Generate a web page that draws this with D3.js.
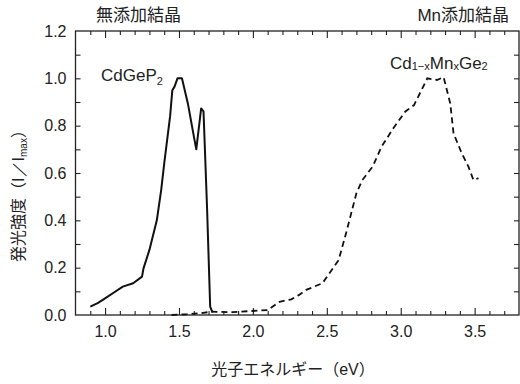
<!DOCTYPE html>
<html>
<head>
<meta charset="utf-8">
<script src="https://cdn.jsdelivr.net/npm/d3@7.9.0/dist/d3.min.js"></script>
<style>
  body { margin: 0; background: #fff; }
  svg { display: block; }
  .tick text { font-family: "Liberation Sans", Arial, sans-serif; font-size: 16px; fill: #222; }
  .tick line { stroke: #222; stroke-width: 1.1; }
  .jp { font-family: "Noto Sans CJK JP", sans-serif; fill: #222; }
  .lat { font-family: "Liberation Sans", Arial, sans-serif; fill: #222; }
</style>
</head>
<body>
<div id="chart"></div>
<script>
// undoped CdGeP2 emission (solid)
const undopedE = [0.90, 0.95, 1.00, 1.06, 1.12, 1.19, 1.25, 1.26, 1.30, 1.35, 1.38, 1.40, 1.44, 1.455, 1.47, 1.49, 1.52, 1.56, 1.605, 1.617, 1.65, 1.666, 1.69, 1.711, 1.727];
const undopedI = [0.035, 0.05, 0.07, 0.095, 0.12, 0.134, 0.162, 0.197, 0.275, 0.40, 0.53, 0.64, 0.84, 0.95, 0.965, 1.0, 1.0, 0.894, 0.74, 0.70, 0.873, 0.86, 0.45, 0.035, 0.01];

// Mn-doped Cd1-xMnxGe2 emission (dashed)
const dopedE = [1.45, 1.55, 1.65, 1.72, 1.86, 2.10, 2.18, 2.26, 2.31, 2.36, 2.47, 2.58, 2.63, 2.70, 2.74, 2.81, 2.87, 2.95, 3.03, 3.09, 3.18, 3.245, 3.29, 3.335, 3.357, 3.413, 3.458, 3.492, 3.526];
const dopedI = [0.0, 0.003, 0.008, 0.014, 0.012, 0.021, 0.056, 0.066, 0.084, 0.106, 0.134, 0.232, 0.345, 0.514, 0.570, 0.627, 0.711, 0.789, 0.859, 0.887, 1.0, 0.993, 1.005, 0.894, 0.768, 0.683, 0.627, 0.570, 0.578];

const xMajor = [1.0, 1.5, 2.0, 2.5, 3.0, 3.5];
const yLabels = [0.0, 0.2, 0.4, 0.6, 0.8, 1.0, 1.2];

const width = 520, height = 384;
const plot = { left: 75.5, right: 519, top: 31, bottom: 315 };

const svg = d3.select('#chart').append('svg')
  .attr('width', width).attr('height', height);

const x = d3.scaleLinear().domain([0.8, 3.8]).range([plot.left, plot.right]);
const y = d3.scaleLinear().domain([0, 1.2]).range([plot.bottom, plot.top]);

const xMinor = d3.range(9, 38).map(d => d / 10).filter(v => !xMajor.some(m => Math.abs(m - v) < 1e-6));
const yMinor = d3.range(1, 12).map(d => d / 10);

// bottom axis
svg.append('g').attr('transform', `translate(0,${plot.bottom})`)
  .call(d3.axisBottom(x).tickValues(xMinor).tickSize(-4).tickFormat(''))
  .call(g => g.select('.domain').remove());
svg.append('g').attr('transform', `translate(0,${plot.bottom})`)
  .call(d3.axisBottom(x).tickValues(xMajor).tickSize(-7).tickPadding(11).tickFormat(d3.format('.1f')))
  .call(g => g.select('.domain').remove());

// top axis
svg.append('g').attr('transform', `translate(0,${plot.top})`)
  .call(d3.axisTop(x).tickValues(xMinor).tickSize(-4).tickFormat(''))
  .call(g => g.select('.domain').remove());
svg.append('g').attr('transform', `translate(0,${plot.top})`)
  .call(d3.axisTop(x).tickValues(xMajor).tickSize(-7).tickFormat(''))
  .call(g => g.select('.domain').remove());

// left axis
svg.append('g').attr('transform', `translate(${plot.left},0)`)
  .call(d3.axisLeft(y).tickValues(yMinor).tickSize(-5).tickFormat(''))
  .call(g => g.select('.domain').remove());
svg.append('g').attr('transform', `translate(${plot.left},0)`)
  .call(d3.axisLeft(y).tickValues(yLabels).tickSize(0).tickPadding(9).tickFormat(d3.format('.1f')))
  .call(g => g.select('.domain').remove());

// right axis
svg.append('g').attr('transform', `translate(${plot.right},0)`)
  .call(d3.axisRight(y).tickValues(yMinor).tickSize(-5).tickFormat(''))
  .call(g => g.select('.domain').remove());

// frame
svg.append('rect')
  .attr('x', plot.left).attr('y', plot.top)
  .attr('width', plot.right - plot.left).attr('height', plot.bottom - plot.top)
  .attr('fill', 'none').attr('stroke', '#222').attr('stroke-width', 1.3);

const line = d3.line().x(d => x(d[0])).y(d => y(d[1]));

svg.append('path')
  .datum(d3.zip(undopedE, undopedI))
  .attr('d', line)
  .attr('fill', 'none').attr('stroke', '#111').attr('stroke-width', 2)
  .attr('stroke-linejoin', 'round');

svg.append('path')
  .datum(d3.zip(dopedE, dopedI))
  .attr('d', line)
  .attr('fill', 'none').attr('stroke', '#111').attr('stroke-width', 1.8)
  .attr('stroke-dasharray', '6,4');

// titles
svg.append('text').attr('class', 'jp').attr('x', 96).attr('y', 21)
  .attr('font-size', 17).text('無添加結晶');
svg.append('text').attr('class', 'jp').attr('x', 509).attr('y', 21)
  .attr('text-anchor', 'end').attr('font-size', 17)
  .html('<tspan class="lat">Mn</tspan>添加結晶');

// curve labels
const l1 = svg.append('text').attr('class', 'lat').attr('x', 101).attr('y', 81).attr('font-size', 17);
l1.append('tspan').text('CdGeP');
l1.append('tspan').attr('font-size', 11).attr('dy', 4).text('2');

const l2 = svg.append('text').attr('class', 'lat').attr('x', 390).attr('y', 69).attr('font-size', 17);
l2.append('tspan').text('Cd');
l2.append('tspan').attr('font-size', 11).attr('dy', 1).text('1−x');
l2.append('tspan').attr('dy', -1).text('Mn');
l2.append('tspan').attr('font-size', 11).attr('dy', 1).text('x');
l2.append('tspan').attr('dy', -1).text('Ge');
l2.append('tspan').attr('font-size', 11).attr('dy', 1).text('2');

// axis titles
svg.append('text').attr('class', 'jp').attr('x', 293).attr('y', 375)
  .attr('text-anchor', 'middle').attr('font-size', 16)
  .html('光子エネルギー（<tspan class="lat">eV</tspan>）');

const yt = svg.append('text').attr('class', 'jp')
  .attr('transform', 'translate(24,192) rotate(-90)')
  .attr('text-anchor', 'middle').attr('font-size', 16);
yt.append('tspan').text('発光強度（');
yt.append('tspan').attr('class', 'lat').text('I／I');
yt.append('tspan').attr('class', 'lat').attr('font-size', 10).attr('dy', 3).text('max');
yt.append('tspan').attr('dy', -3).text('）');
</script>
</body>
</html>
